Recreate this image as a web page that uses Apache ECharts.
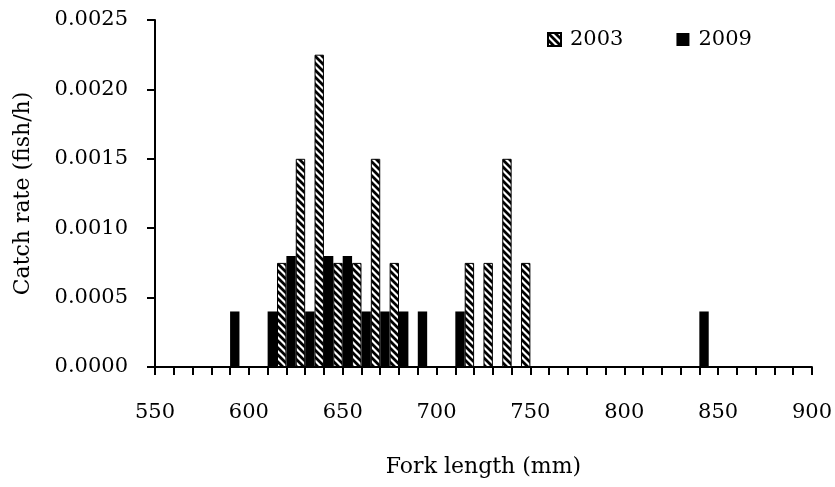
<!DOCTYPE html>
<html>
<head>
<meta charset="utf-8">
<script src="https://cdn.jsdelivr.net/npm/echarts@6/dist/echarts.min.js"></script>
<style>
  html, body { margin: 0; padding: 0; background: #fff; }
  #chart { width: 835px; height: 487px; }
</style>
</head>
<body>
<div id="chart"></div>
<script>
// Fork-length bins (mm), one category per 10 mm
const lengthBins = [550, 560, 570, 580, 590, 600, 610, 620, 630, 640, 650, 660,
  670, 680, 690, 700, 710, 720, 730, 740, 750, 760, 770, 780, 790, 800, 810, 820,
  830, 840, 850, 860, 870, 880, 890, 900];

// Catch rate (fish/h) per bin
const rate2003 = [0, 0, 0, 0, 0, 0, 0, 0.00075, 0.0015, 0.00225, 0.00075, 0.00075,
  0.0015, 0.00075, 0, 0, 0, 0.00075, 0.00075, 0.0015, 0.00075, 0, 0, 0, 0, 0, 0, 0,
  0, 0, 0, 0, 0, 0, 0, 0];
const rate2009 = [0, 0, 0, 0, 0.0004, 0, 0.0004, 0.0008, 0.0004, 0.0008, 0.0008, 0.0004,
  0.0004, 0.0004, 0.0004, 0, 0.0004, 0, 0, 0, 0, 0, 0, 0, 0, 0, 0, 0,
  0, 0.0004, 0, 0, 0, 0, 0, 0];

const seriesNames = ['2003', '2009'];
const yTicks = { min: 0, max: 0.0025, step: 0.0005 };

// Diagonal hatch tile for the 2003 bars
function hatchTile() {
  const s = 7;
  const c = document.createElement('canvas');
  c.width = s; c.height = s;
  const g = c.getContext('2d');
  g.fillStyle = '#fff';
  g.fillRect(0, 0, s, s);
  g.strokeStyle = '#000';
  g.lineWidth = 2.8;
  g.beginPath();
  for (const k of [-s, 0, s]) {
    g.moveTo(-1 + k, -1);
    g.lineTo(s + 1 + k, s + 1);
  }
  g.stroke();
  return c;
}

const FONT = 'DejaVu Serif';
const chart = echarts.init(document.getElementById('chart'));

chart.setOption({
  animation: false,
  backgroundColor: '#fff',
  grid: { left: 155, right: 23, top: 20, bottom: 120 },
  legend: {
    left: 542, top: 24,
    itemWidth: 13, itemHeight: 13, itemGap: 53,
    icon: 'rect',
    textStyle: { fontFamily: FONT, fontSize: 21, color: '#000', padding: [0, 0, 0, 4] },
    data: seriesNames
  },
  xAxis: {
    type: 'category',
    data: lengthBins,
    boundaryGap: false,
    name: 'Fork length (mm)',
    nameLocation: 'middle',
    nameGap: 89,
    nameTextStyle: { fontFamily: FONT, fontSize: 22, color: '#000' },
    axisLine: { lineStyle: { color: '#000', width: 2 } },
    axisTick: { show: true, interval: 0, length: 8, lineStyle: { color: '#000', width: 2 } },
    axisLabel: { interval: 4, margin: 35, fontFamily: FONT, fontSize: 21, color: '#000' },
    splitLine: { show: false }
  },
  yAxis: {
    type: 'value',
    min: yTicks.min, max: yTicks.max, interval: yTicks.step,
    name: 'Catch rate (fish/h)',
    nameLocation: 'middle',
    nameGap: 121,
    nameTextStyle: { fontFamily: FONT, fontSize: 22, color: '#000' },
    axisLine: { show: true, lineStyle: { color: '#000', width: 2 } },
    axisTick: { show: true, length: 8, lineStyle: { color: '#000', width: 2 } },
    axisLabel: {
      margin: 27, fontFamily: FONT, fontSize: 21, color: '#000',
      formatter: v => v.toFixed(4)
    },
    splitLine: { show: false }
  },
  series: [
    {
      name: seriesNames[0],
      type: 'bar',
      data: rate2003.map(v => (v === 0 ? '-' : v)),
      barGap: '0%',
      barCategoryGap: '0%',
      itemStyle: {
        color: { image: hatchTile(), repeat: 'repeat' },
        borderColor: '#000',
        borderWidth: 1
      }
    },
    {
      name: seriesNames[1],
      type: 'bar',
      data: rate2009.map(v => (v === 0 ? '-' : v)),
      barGap: '0%',
      barCategoryGap: '0%',
      itemStyle: { color: '#000' }
    }
  ]
});
</script>
</body>
</html>
